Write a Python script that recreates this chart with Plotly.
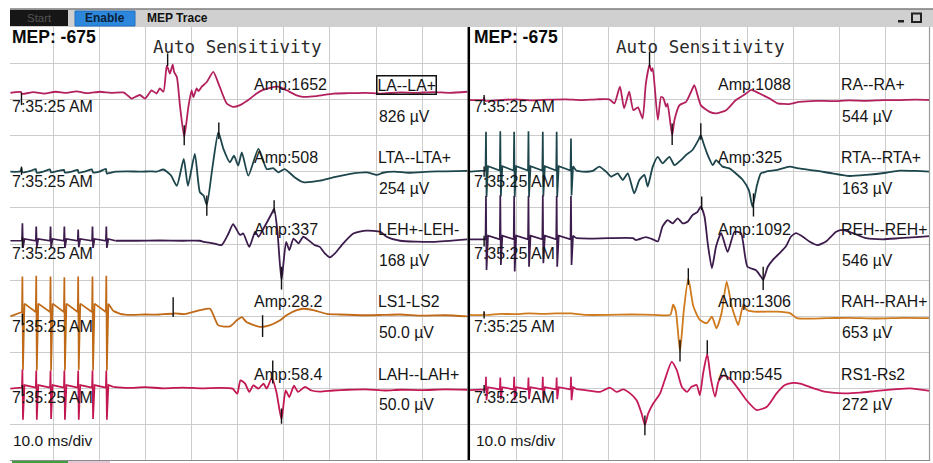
import plotly.graph_objects as go

W, H = 933, 463

# ---------------- stimulation train times (ms) ----------------
STIM_L = [3.3, 6.3, 9.4, 12.4, 15.4, 18.5, 21.5]
STIM_R = [3.5, 6.6, 9.6, 12.7, 15.8, 18.8, 21.9]

# ---------------- channel text ----------------
LEFT_NAMES = ["LA--LA+", "LTA--LTA+", "LEH+-LEH-", "LS1-LS2", "LAH--LAH+"]
LEFT_SENS = ["826 µV", "254 µV", "168 µV", "50.0 µV", "50.0 µV"]
LEFT_AMP = ["1652", "508", "337", "28.2", "58.4"]
RIGHT_NAMES = ["RA--RA+", "RTA--RTA+", "REH--REH+", "RAH--RAH+", "RS1-Rs2"]
RIGHT_SENS = ["544 µV", "163 µV", "546 µV", "653 µV", "272 µV"]
RIGHT_AMP = ["1088", "325", "1092", "1306", "545"]
MEP_VALUE = "-675"
TIMESTAMP = "7:35:25 AM"
SWEEP = "10.0 ms/div"

# ---------------- traces: time (ms), deflection (divisions) ----------------
LA_T = [0.7, 3.0, 3.2, 5.7, 8.0, 10.5, 12.9, 15.0, 17.5, 20.1, 22.5, 25.2, 26.2, 27.0, 28.0, 28.8, 29.9, 30.6,
        31.3, 32.4, 33.1, 33.9, 34.6, 34.9, 35.3, 35.9, 36.2, 36.8, 37.5, 38.4, 39.3, 40.0, 40.4, 41.1, 41.5,
        42.2, 43.3, 44.7, 46.0, 47.6, 49.0, 50.5, 52.3, 54.1, 55.5, 57.0, 58.8, 60.6, 62.8, 64.2, 67.1, 70.7,
        74.0, 77.9, 81.0, 85.2, 88.5, 92.4, 96.0, 99.8]
LA_V = [0.0, 0.02, -0.03, 0.02, -0.02, 0.03, 0.0, 0.04, -0.01, 0.03, 0.0, 0.01, -0.08, -0.16, -0.1, -0.06, -0.16,
        -0.05, 0.07, -0.02, 0.12, 0.03, 0.75, 0.67, 0.53, 0.78, 0.58, 0.44, -0.39, -1.22, -0.39, 0.07, -0.12,
        0.12, 0.05, 0.17, 0.3, 0.58, 0.2, -0.29, -0.39, -0.34, -0.2, -0.02, 0.08, 0.14, 0.17, 0.07, -0.07,
        -0.11, -0.09, -0.02, -0.01, 0.0, -0.02, 0.01, 0.0, 0.02, 0.0, 0.03]

LTA_T = [0.7, 2.9, 3.1, 3.3, 5.0, 6.2, 6.4, 8.0, 9.3, 9.5, 11.0, 12.3, 12.5, 14.0, 15.3, 15.5, 17.0, 18.4, 18.6,
         20.0, 21.4, 21.6, 23.5, 26.0, 29.0, 31.0, 32.4, 33.9, 35.5, 36.8, 38.3, 39.2, 40.7, 41.8, 42.6, 43.3,
         44.5, 45.8, 46.9, 48.3, 49.2, 50.1, 50.9, 52.3, 54.5, 56.3, 57.7, 58.8, 60.2, 62.4, 64.2, 67.8, 70.7,
         74.4, 78.0, 80.2, 81.5, 84.0, 87.0, 91.7, 95.0, 99.8]
LTA_V = [0.0, 0.01, 0.1, -0.02, 0.02, 0.07, -0.03, 0.01, 0.06, -0.02, 0.02, 0.05, -0.02, 0.0, 0.05, -0.03, 0.01,
         0.06, -0.02, 0.0, 0.08, -0.05, 0.0, 0.01, 0.0, 0.01, 0.0, 0.06, -0.1, -0.39, 0.35, -0.39, 0.49, -0.57,
         -0.66, -0.92, 0.1, 1.09, 0.63, 0.26, 0.44, 0.17, 0.53, -0.11, 0.63, 0.07, 0.1, -0.02, 0.07, -0.16,
         -0.29, -0.25, -0.16, -0.06, -0.02, -0.09, -0.03, 0.0, -0.03, 0.0, 0.01, 0.02]

LEH_UP = [0.48, 0.39, 0.39, 0.39, 0.31, 0.39, 0.39]
LEH_DN = [-0.2, -0.18, -0.2, -0.2, -0.18, -0.2, -0.2]
LEH_T = [23.5, 28.0, 33.0, 38.0, 41.8, 42.6, 44.7, 46.5, 48.0, 49.0, 50.5, 51.2, 52.5, 53.8, 54.5, 55.6, 57.4,
         57.9, 58.6, 59.5, 60.5, 61.2, 62.1, 63.2, 64.2, 65.3, 66.7, 67.8, 68.9, 70.0, 71.1, 72.9, 75.1, 77.9,
         80.9, 82.3, 85.2, 92.4, 99.8]
LEH_V = [0.0, 0.0, 0.01, 0.0, 0.0, -0.03, -0.07, -0.12, 0.2, 0.46, 0.16, 0.2, -0.17, 0.25, 0.11, 0.34, 0.76,
         0.89, 0.29, -1.09, -0.03, -0.26, 0.06, -0.07, 0.11, 0.02, -0.12, -0.17, -0.35, -0.46, -0.35, -0.07,
         0.2, 0.28, 0.25, 0.11, 0.0, -0.03, 0.04]

LS1_UP = [1.1, 1.12, 1.1, 1.08, 1.1, 1.1, 1.12]
LS1_DN = [-1.48, -1.5, -1.5, -1.5, -1.48, -1.5, -1.5]
LS1_T = [23.0, 24.5, 27.0, 30.0, 33.0, 35.8, 36.0, 36.2, 38.5, 41.8, 44.0, 45.8, 48.3, 49.8, 50.9, 51.9, 54.8,
         56.9, 59.2, 60.6, 62.8, 64.2, 66.4, 69.3, 72.0, 77.9, 81.5, 85.2, 90.0, 95.0, 99.8]
LS1_V = [0.15, 0.07, 0.04, 0.05, 0.05, 0.07, 0.05, 0.08, 0.06, 0.17, 0.21, -0.25, -0.28, -0.11, -0.02, -0.16,
         -0.29, -0.25, -0.11, 0.03, 0.17, 0.21, 0.17, 0.07, 0.05, 0.03, 0.04, 0.05, 0.02, 0.03, 0.0]

LAH_UP = [0.53, 0.5, 0.5, 0.5, 0.5, 0.5, 0.5]
LAH_DN = [-0.86, -0.86, -0.84, -0.86, -0.86, -0.84, -0.86]
LAH_T = [23.0, 26.0, 30.0, 34.0, 38.0, 42.0, 46.0, 48.9, 49.9, 50.6, 51.6, 52.5, 53.4, 54.5, 55.6, 56.3, 57.4,
         58.4, 59.5, 60.4, 61.2, 62.2, 63.1, 64.6, 66.0, 67.8, 70.7, 74.0, 77.9, 82.0, 85.2, 90.0, 95.0, 99.8]
LAH_V = [0.05, 0.02, 0.04, 0.01, 0.03, 0.01, 0.02, 0.0, -0.14, 0.23, 0.14, -0.09, 0.09, 0.0, 0.14, 0.0, 0.3,
         -0.09, -0.85, -0.05, -0.23, 0.08, -0.09, 0.05, -0.05, -0.08, -0.05, -0.03, -0.02, -0.05, -0.03, -0.04,
         -0.02, -0.03]

RA_T = [0.0, 3.0, 3.1, 3.3, 6.4, 10.0, 13.6, 17.0, 20.8, 24.0, 27.5, 30.2, 31.3, 32.5, 33.4, 34.5, 35.4, 36.4,
        37.4, 38.1, 38.9, 39.3, 39.6, 40.7, 41.4, 41.9, 42.5, 42.8, 43.8, 44.3, 45.4, 46.8, 47.9, 48.6, 50.0,
        51.8, 53.3, 55.5, 57.6, 59.8, 60.9, 62.7, 64.8, 66.6, 69.2, 71.3, 75.0, 78.5, 82.0, 85.8, 89.5, 93.0,
        96.5, 99.6]
RA_V = [0.0, 0.01, 0.06, -0.02, 0.0, 0.02, -0.01, 0.01, 0.02, 0.0, 0.02, 0.02, -0.09, 0.37, -0.23, 0.23, -0.28,
        -0.2, -0.51, 0.45, 0.97, 0.8, 0.88, -0.55, 0.09, 0.05, -0.18, -0.1, -0.97, -0.55, -0.14, -0.05, 0.23,
        0.41, -0.14, -0.32, -0.37, -0.28, 0.0, 0.18, 0.28, 0.18, 0.05, -0.09, -0.11, -0.05, -0.02, -0.03, -0.01,
        -0.02, 0.0, 0.0, 0.01, 0.0]

RTA_UP = [1.1, 1.12, 1.1, 1.12, 1.1, 1.1, 0.92]
RTA_DN = [-0.7, -0.68, -0.7, -0.7, -0.68, -0.7, -0.66]
RTA_T = [23.0, 24.5, 26.6, 28.0, 29.5, 30.6, 32.0, 33.1, 34.2, 35.6, 36.7, 37.8, 38.5, 39.6, 40.7, 41.7, 43.2,
         44.3, 45.7, 46.8, 48.2, 49.5, 50.0, 50.6, 51.5, 52.6, 53.3, 54.7, 56.2, 57.6, 59.1, 60.4, 61.2, 62.1,
         63.0, 64.1, 66.6, 69.2, 71.3, 74.9, 78.5, 82.1, 85.8, 90.1, 93.0, 96.6, 99.6]
RTA_V = [0.03, 0.0, 0.02, 0.14, 0.0, -0.14, -0.05, -0.23, -0.05, -0.6, -0.23, -0.09, -0.41, 0.14, 0.41, 0.23,
         0.41, 0.18, 0.32, 0.46, 0.6, 0.88, 1.01, 0.78, 0.46, 0.18, 0.32, 0.14, 0.09, -0.05, -0.23, -0.51, -0.97,
         -0.41, -0.05, 0.0, 0.05, 0.14, 0.09, 0.03, -0.05, -0.12, -0.09, -0.03, 0.03, 0.02, 0.0]

REH_UP = [1.2, 1.22, 1.2, 1.2, 1.22, 1.2, 1.2]
REH_DN = [-0.85, -0.71, -0.89, -0.76, -0.66, -0.76, -0.71]
REH_T = [23.0, 26.0, 30.0, 35.3, 36.0, 38.1, 39.6, 40.7, 41.7, 42.8, 43.9, 45.0, 46.1, 47.2, 48.2, 49.3, 50.0,
         50.8, 51.5, 52.4, 53.3, 54.4, 55.8, 57.3, 58.7, 60.1, 61.9, 63.0, 63.5, 64.5, 65.6, 67.0, 68.4, 69.5,
         70.6, 72.1, 73.5, 75.3, 77.1, 79.3, 80.7, 82.9, 85.8, 89.4, 93.0, 96.6, 99.6]
REH_V = [0.03, 0.02, 0.03, 0.03, -0.02, 0.06, 0.0, -0.06, 0.35, 0.53, 0.44, 0.58, 0.44, 0.49, 0.67, 0.76, 0.9,
         0.63, -0.11, -0.8, -0.2, 0.17, -0.35, 0.21, 0.17, -0.76, -0.85, -1.03, -1.12, -0.76, -0.57, -0.39,
         -0.2, 0.07, 0.17, 0.07, -0.06, -0.16, -0.06, 0.21, 0.26, 0.17, 0.03, 0.0, 0.03, 0.06, 0.09]

RAH_T = [0.0, 3.0, 3.1, 3.2, 6.6, 9.6, 12.7, 15.8, 18.8, 21.9, 25.0, 30.0, 35.0, 40.0, 43.4, 44.0, 44.6, 45.5,
         46.3, 47.3, 48.4, 49.8, 51.3, 52.4, 53.4, 54.5, 55.6, 56.7, 57.4, 58.1, 59.2, 59.9, 61.4, 66.4, 69.3,
         70.8, 77.3, 82.0, 88.0, 94.0, 99.6]
RAH_V = [0.0, 0.0, 0.05, 0.0, 0.03, 0.02, 0.04, 0.03, 0.04, 0.04, 0.0, 0.0, 0.01, 0.0, 0.0, 0.28, 0.1, -1.01,
         0.1, 1.01, 0.23, -0.14, -0.23, -0.05, -0.37, 0.05, 0.92, 0.23, -0.05, -0.28, 0.28, 0.14, 0.09, 0.09,
         0.05, -0.09, -0.09, -0.08, -0.1, -0.08, -0.09]

RS1_UP = [0.37, 0.35, 0.37, 0.35, 0.37, 0.35, 0.37]
RS1_DN = [-0.28, -0.25, -0.28, -0.25, -0.28, -0.25, -0.28]
RS1_T = [23.0, 25.0, 28.2, 30.3, 31.8, 33.2, 34.7, 36.1, 37.2, 37.9, 38.6, 39.7, 41.2, 42.2, 43.7, 44.8, 45.9,
         47.0, 48.0, 49.1, 49.8, 50.5, 51.4, 52.1, 53.1, 53.8, 54.9, 56.3, 57.8, 59.9, 62.1, 64.3, 66.4, 68.2,
         70.0, 71.5, 74.4, 77.2, 80.9, 84.5, 88.1, 91.7, 95.3, 99.6]
RS1_V = [0.03, 0.0, -0.05, 0.07, -0.05, 0.02, -0.09, -0.28, -0.65, -0.97, -0.65, -0.37, -0.09, 0.28, 0.78, 0.55,
         0.09, -0.05, 0.09, 0.14, -0.14, 0.46, 1.0, 0.37, -0.18, 0.23, 0.41, 0.32, 0.09, -0.28, -0.55, -0.46,
         -0.09, 0.14, 0.2, 0.18, 0.05, -0.05, -0.09, -0.07, -0.02, 0.02, 0.05, -0.02]

# ---------------- cursor marks: time (ms), upper / lower end (divisions) ----------------
CUR = {
    "LA": ([3.1, 34.8, 38.4], [0.0, 1.09, -0.9], [-0.34, 0.74, -1.45]),
    "LTA": ([3.1, 43.3, 45.9], [0.14, -0.66, 1.36], [-0.09, -1.22, 0.9]),
    "LEH": ([3.3, 57.9, 59.5], [0.1, 1.12, -0.72], [-0.2, 0.76, -1.35]),
    "LS1": ([3.3, 36.0, 55.4], [0.07, 0.53, 0.03], [-0.25, -0.02, -0.57]),
    "LAH": ([3.3, 57.6, 59.5], [0.1, 0.78, -0.55], [-0.2, 0.14, -0.97]),
    "RA": ([3.1, 38.9, 43.8], [0.14, 1.34, -0.65], [-0.14, 0.92, -1.24]),
    "RTA": ([3.1, 50.0, 61.4], [0.14, 1.34, -0.6], [-0.14, 0.88, -1.24]),
    "REH": ([3.1, 50.2, 63.5], [0.1, 1.18, -0.76], [-0.2, 0.81, -1.4]),
    "RAH": ([3.1, 45.5, 47.3], [0.1, -0.69, 1.29], [-0.1, -1.29, 0.83]),
    "RS1": ([3.1, 37.9, 51.4], [0.14, -0.7, 1.38], [-0.09, -1.25, 1.0]),
}

# ---------------- layout constants ----------------
LEFT_BASE = [1.82, 4.0, 5.91, 8.0, 10.0]      # channel baselines, divisions from top
RIGHT_BASE = [2.02, 4.0, 5.87, 7.96, 10.04]
AMP_Y = [1.6, 3.6, 5.6, 7.6, 9.6]
SENS_Y = [2.48, 4.47, 6.46, 8.45, 10.44]
TIME_Y = [2.21, 4.27, 6.25, 8.27, 10.24]
LEFT_COLORS = ["#b3205e", "#1c454c", "#3c1c4c", "#c06a18", "#c2184f"]
RIGHT_COLORS = ["#b3205e", "#1c454c", "#3c1c4c", "#cf7a1c", "#c41a5a"]
FONT = "Liberation Sans"


def train(stim, up, dn, rebound, rest, t0):
    """Stimulation-artifact spikes that precede a response."""
    t, v = [t0], [0.0]
    for s, u, d in zip(stim, up, dn):
        t += [s - 0.1, s, s + 0.12, s + 0.45]
        v += [rest, u, d, rebound]
    return t, v


left = [
    ("LA", None, LA_T, LA_V),
    ("LTA", None, LTA_T, LTA_V),
    ("LEH", train(STIM_L, LEH_UP, LEH_DN, 0.05, 0.0, 0.7), LEH_T, LEH_V),
    ("LS1", train(STIM_L, LS1_UP, LS1_DN, 0.35, 0.12, 0.7), LS1_T, LS1_V),
    ("LAH", train(STIM_L, LAH_UP, LAH_DN, 0.1, 0.03, 0.7), LAH_T, LAH_V),
]
right = [
    ("RA", None, RA_T, RA_V),
    ("RTA", train(STIM_R, RTA_UP, RTA_DN, 0.15, 0.03, 0.0), RTA_T, RTA_V),
    ("REH", train(STIM_R, REH_UP, REH_DN, 0.1, 0.0, 0.0), REH_T, REH_V),
    ("RAH", None, RAH_T, RAH_V),
    ("RS1", train(STIM_R, RS1_UP, RS1_DN, 0.08, 0.02, 0.0), RS1_T, RS1_V),
]

fig = go.Figure()

for chans, bases, colors, xa, ya in [(left, LEFT_BASE, LEFT_COLORS, "x", "y"),
                                     (right, RIGHT_BASE, RIGHT_COLORS, "x2", "y2")]:
    cx, cy = [], []
    for (key, art, t, v), base, col in zip(chans, bases, colors):
        if art is not None:
            at, av = art
            fig.add_trace(go.Scatter(x=at + [t[0]], y=[d - base for d in av + [v[0]]], mode="lines",
                                     xaxis=xa, yaxis=ya, line=dict(color=col, width=1.7),
                                     hoverinfo="skip"))
        fig.add_trace(go.Scatter(x=t, y=[d - base for d in v], mode="lines", xaxis=xa, yaxis=ya,
                                 line=dict(color=col, width=1.8, shape="spline", smoothing=0.55),
                                 hoverinfo="skip"))
        ct, hi, lo = CUR[key]
        for tt, h, l in zip(ct, hi, lo):
            cx += [tt, tt, None]
            cy += [h - base, l - base, None]
    fig.add_trace(go.Scatter(x=cx, y=cy, mode="lines", xaxis=xa, yaxis=ya,
                             line=dict(color="#111111", width=1.4), hoverinfo="skip"))

# ---------------- text inside the panels ----------------
ann = []


def txt(text, x, y, xref, yref, size=16, color="#151515", family=FONT, xanchor="left", **kw):
    ann.append(dict(text=text, x=x, y=y, xref=xref, yref=yref, showarrow=False, xanchor=xanchor,
                    yanchor="middle", font=dict(family=family, size=size, color=color), **kw))


# the left panel's visible range starts a little after 0 ms
for names, sens, amps, xa, ya, x_left in [(LEFT_NAMES, LEFT_SENS, LEFT_AMP, "x", "y", 0.65),
                                          (RIGHT_NAMES, RIGHT_SENS, RIGHT_AMP, "x2", "y2", 0.5)]:
    txt("<b>MEP: " + MEP_VALUE + "</b>", x_left, -0.29, xa, ya, size=17.5, color="#0a0a0a")
    txt("Auto Sensitivity", 50.0, -0.54, xa, ya, size=17.5, family="DejaVu Sans Mono",
        color="#2a2a2a", xanchor="center")
    txt(SWEEP, max(x_left, 0.8), -11.42, xa, ya, size=15.5)
    for i in range(5):
        txt("Amp:" + amps[i], 53.2, -AMP_Y[i], xa, ya, size=16)
        boxed = dict(bordercolor="#111111", borderwidth=1.5, borderpad=0) if (xa == "x" and i == 0) else {}
        txt(names[i], 80.0, -AMP_Y[i], xa, ya, size=15.8, **boxed)
        txt(sens[i], 80.2, -SENS_Y[i], xa, ya, size=15.8)
        txt(TIMESTAMP, x_left, -TIME_Y[i], xa, ya, size=16)


# ---------------- window chrome (pixel positions -> paper) ----------------
def px(x):
    return x / W


def py(y):
    return 1 - y / H


shapes = [
    dict(type="rect", xref="paper", yref="paper", x0=px(10), x1=px(933), y0=py(27), y1=py(9),
         fillcolor="#d0d0d0", line=dict(width=0), layer="above"),
    dict(type="line", xref="paper", yref="paper", x0=px(10), x1=px(933), y0=py(9), y1=py(9),
         line=dict(color="#7c7c7c", width=1.5)),
    dict(type="rect", xref="paper", yref="paper", x0=px(10), x1=px(68), y0=py(26), y1=py(10),
         fillcolor="#161616", line=dict(width=0)),
    dict(type="rect", xref="paper", yref="paper", x0=px(75), x1=px(135), y0=py(26), y1=py(11),
         fillcolor="#2d88dd", line=dict(color="#1f6fc0", width=1)),
    dict(type="rect", xref="paper", yref="paper", x0=px(898), x1=px(904), y0=py(22.5), y1=py(20),
         fillcolor="#222222", line=dict(width=0)),
    dict(type="rect", xref="paper", yref="paper", x0=px(912), x1=px(921), y0=py(22), y1=py(13.5),
         fillcolor="rgba(0,0,0,0)", line=dict(color="#222222", width=2)),
    # panel divider, right and bottom borders
    dict(type="line", xref="paper", yref="paper", x0=px(468.8), x1=px(468.8), y0=py(461), y1=py(27),
         line=dict(color="#000000", width=2.5)),
    dict(type="line", xref="paper", yref="paper", x0=px(929.5), x1=px(929.5), y0=py(461), y1=py(27),
         line=dict(color="#9a9a9a", width=1.2)),
    dict(type="line", xref="paper", yref="paper", x0=px(10), x1=px(930), y0=py(460.5), y1=py(460.5),
         line=dict(color="#8a8a8a", width=1.2)),
    dict(type="line", xref="paper", yref="paper", x0=px(12), x1=px(68), y0=py(462), y1=py(462),
         line=dict(color="#3f9f3f", width=2)),
    dict(type="line", xref="paper", yref="paper", x0=px(68), x1=px(110), y0=py(462), y1=py(462),
         line=dict(color="#e6c6d6", width=2)),
]

ann += [
    dict(text="Start", x=px(39), y=py(18.5), xref="paper", yref="paper", showarrow=False,
         xanchor="center", yanchor="middle", font=dict(family=FONT, size=11.5, color="#555555")),
    dict(text="<b>Enable</b>", x=px(105), y=py(18.5), xref="paper", yref="paper", showarrow=False,
         xanchor="center", yanchor="middle", font=dict(family=FONT, size=12, color="#0c2238")),
    dict(text="<b>MEP Trace</b>", x=px(145), y=py(18), xref="paper", yref="paper", showarrow=False,
         xanchor="left", yanchor="middle", font=dict(family=FONT, size=12, color="#111111")),
]

axis_x = dict(showticklabels=False, ticks="", showline=False, zeroline=False, showgrid=True,
              gridcolor="#cccccc", gridwidth=1, dtick=10, tick0=0, fixedrange=True)
axis_y = dict(showticklabels=False, ticks="", showline=False, zeroline=False, showgrid=True,
              gridcolor="#cccccc", gridwidth=1, dtick=1, tick0=0, range=[-12, 0],
              domain=[1 - 461 / H, 1 - 27 / H], fixedrange=True)

fig.update_layout(
    width=W, height=H, margin=dict(l=0, r=0, t=0, b=0),
    paper_bgcolor="white", plot_bgcolor="white", showlegend=False,
    xaxis=dict(axis_x, domain=[px(10), px(469)], range=[(10 - 7.2) / 4.61, (469 - 7.2) / 4.61], anchor="y"),
    xaxis2=dict(axis_x, domain=[px(469), px(930)], range=[(469 - 469.8) / 4.62, (930 - 469.8) / 4.62],
                anchor="y2"),
    yaxis=dict(axis_y, anchor="x"),
    yaxis2=dict(axis_y, anchor="x2"),
    shapes=shapes,
    annotations=ann,
)

fig.write_html("out.html")
